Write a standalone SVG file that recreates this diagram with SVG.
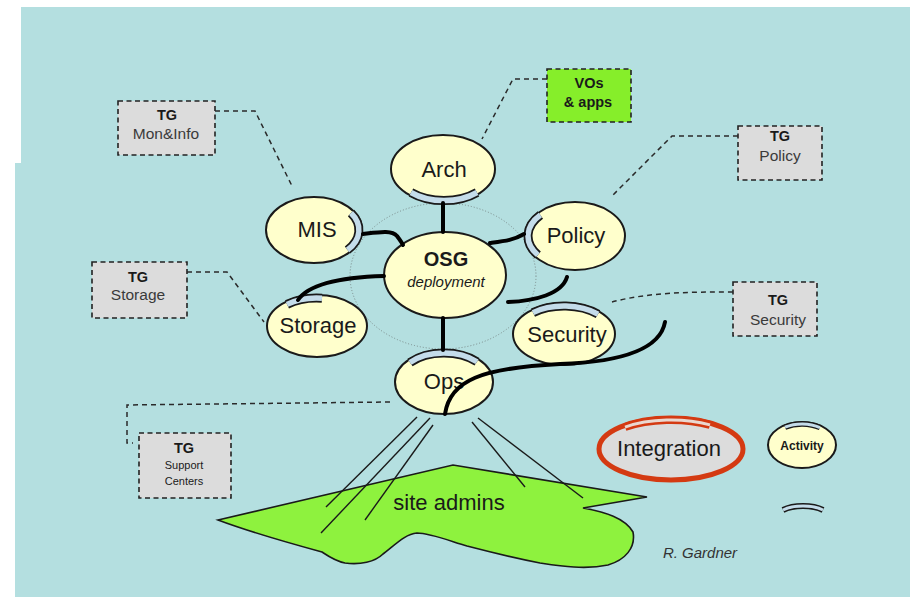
<svg xmlns="http://www.w3.org/2000/svg" width="915" height="602" viewBox="0 0 915 602">
<style>
.bg{fill:#b4dfe0}
.node{fill:#ffffcc;stroke:#1a1a1a;stroke-width:2}
.lbl{font-family:"Liberation Sans",Arial,sans-serif;font-size:22px;fill:#1a1a1a;text-anchor:middle}
.notchO{fill:none;stroke:#1a1a1a;stroke-width:9}
.notchI{fill:none;stroke:#c4dcea;stroke-width:5.5}
.tg{fill:#dcdcdc;stroke:#222;stroke-width:1.6;stroke-dasharray:5,3.5}
.vo{fill:#86ee2a;stroke:#222;stroke-width:1.6;stroke-dasharray:5,3.5}
.tgh{font-family:"Liberation Sans",Arial,sans-serif;font-size:14.5px;font-weight:bold;fill:#1a1a1a;text-anchor:middle}
.tgs{font-family:"Liberation Sans",Arial,sans-serif;font-size:15.5px;fill:#3a3a3a;text-anchor:middle}
.lead{fill:none;stroke:#2a2a2a;stroke-width:1.5;stroke-dasharray:5,4}
.thick{fill:none;stroke:#000;stroke-width:4;stroke-linecap:round}
.thin{fill:none;stroke:#1a1a1a;stroke-width:1.4}
</style>
<polygon class="bg" points="21,7 910,7 910,597 15,597 15,163 21,163"/>
<ellipse cx="443" cy="276" rx="93" ry="73" fill="none" stroke="#7a8a8a" stroke-width="1" stroke-dasharray="1,2"/>

<g id="site-admins">
<path d="M218,520 L453,465 L647,497 L583,508 C605,512 625,518 633,532 C636,548 625,560 608,565 C585,570 560,566 540,563 C515,558 490,552 467,546 C450,541 430,533 417,533 C405,534 395,545 383,554 C375,562 360,565 345,563 C335,561 328,556 322,552 C300,546 250,532 218,520 Z" fill="#8ef23e" stroke="#1a1a1a" stroke-width="1.6"/>
<text class="lbl" x="449" y="510">site admins</text>
</g>

<g id="arch">
<ellipse class="node" cx="443" cy="169" rx="52" ry="34"/>
<path class="notchO" d="M411,192.5 A49,31 0 0 0 477,192.5"/>
<path class="notchI" d="M411,192.5 A49,31 0 0 0 477,192.5"/>
<text class="lbl" x="444" y="177">Arch</text>
</g>

<g id="mis">
<ellipse class="node" cx="314" cy="230" rx="48" ry="33"/>
<path class="notchO" d="M351,213 A45,30 0 0 1 347.5,250"/>
<path class="notchI" d="M351,213 A45,30 0 0 1 347.5,250"/>
<text class="lbl" x="317" y="237">MIS</text>
</g>

<g id="osg">
<ellipse class="node" cx="445" cy="275" rx="61" ry="43"/>
<text x="446" y="266" font-family="Liberation Sans,Arial,sans-serif" font-size="20" font-weight="bold" fill="#1a1a1a" text-anchor="middle">OSG</text>
<text x="446" y="287" font-family="Liberation Sans,Arial,sans-serif" font-size="15" font-style="italic" fill="#1a1a1a" text-anchor="middle">deployment</text>
</g>

<g id="policy">
<ellipse class="node" cx="575" cy="236" rx="50" ry="34"/>
<path class="notchO" d="M540.4,215 A47,31 0 0 0 537.9,255"/>
<path class="notchI" d="M540.4,215 A47,31 0 0 0 537.9,255"/>
<text class="lbl" x="576" y="243">Policy</text>
</g>

<g id="storage">
<ellipse class="node" cx="317" cy="326" rx="50" ry="31"/>
<path class="notchO" d="M287,304.4 A47,28 0 0 1 322,298.2"/>
<path class="notchI" d="M287,304.4 A47,28 0 0 1 322,298.2"/>
<text class="lbl" x="318" y="333">Storage</text>
</g>

<g id="security">
<ellipse class="node" cx="564" cy="334" rx="51" ry="31"/>
<path class="notchO" d="M533,312.6 A48,28 0 0 1 598,314.2"/>
<path class="notchI" d="M533,312.6 A48,28 0 0 1 598,314.2"/>
<text class="lbl" x="567" y="342">Security</text>
</g>

<g id="ops">
<ellipse class="node" cx="444" cy="382" rx="49" ry="32"/>
<path class="notchO" d="M410,362.5 A46,29 0 0 1 477,361.8"/>
<path class="notchI" d="M410,362.5 A46,29 0 0 1 477,361.8"/>
<text class="lbl" x="444" y="389">Ops</text>
</g>

<g id="integration">
<ellipse cx="671" cy="449" rx="72" ry="31" fill="#dcdcdc" stroke="#d43a12" stroke-width="5"/>
<path d="M625,427.1 A70,29 0 0 1 710,424.9" fill="none" stroke="#d43a12" stroke-width="8"/>
<path d="M625,427.1 A70,29 0 0 1 710,424.9" fill="none" stroke="#ead8d0" stroke-width="3"/>
<text class="lbl" x="669" y="456">Integration</text>
</g>

<g id="activity">
<ellipse class="node" cx="802" cy="445" rx="34" ry="23" stroke-width="1.6"/>
<path d="M785,427.2 A32,21 0 0 1 820,427.6" fill="none" stroke="#1a1a1a" stroke-width="5.5"/>
<path d="M785,427.2 A32,21 0 0 1 820,427.6" fill="none" stroke="#c4dcea" stroke-width="3"/>
<text x="802" y="450" font-family="Liberation Sans,Arial,sans-serif" font-size="12" font-weight="bold" fill="#1a1a1a" text-anchor="middle">Activity</text>
</g>

<g id="connector-symbol">
<path d="M783,510 A26,11 0 0 1 823,510" fill="none" stroke="#1a1a1a" stroke-width="6"/>
<path d="M783,510 A26,11 0 0 1 823,510" fill="none" stroke="#c4dcea" stroke-width="3"/>
</g>

<g id="tg-moninfo">
<rect class="tg" x="118" y="101" width="97" height="54"/>
<text class="tgh" x="167" y="120">TG</text>
<text class="tgs" x="166" y="139">Mon&amp;Info</text>
</g>

<g id="vos-apps">
<rect class="vo" x="547" y="69" width="84" height="53"/>
<text class="tgh" x="589" y="88" font-size="15">VOs</text>
<text class="tgh" x="588" y="107" font-size="15">&amp; apps</text>
</g>

<g id="tg-policy">
<rect class="tg" x="738" y="126" width="84" height="54"/>
<text class="tgh" x="780" y="141">TG</text>
<text class="tgs" x="780" y="161">Policy</text>
</g>

<g id="tg-storage">
<rect class="tg" x="92" y="262" width="95" height="56"/>
<text class="tgh" x="138" y="282">TG</text>
<text class="tgs" x="138" y="300">Storage</text>
</g>

<g id="tg-security">
<rect class="tg" x="733" y="282" width="84" height="54"/>
<text class="tgh" x="778" y="305">TG</text>
<text class="tgs" x="778" y="325">Security</text>
</g>

<g id="tg-support">
<rect class="tg" x="139" y="433" width="92" height="65"/>
<text class="tgh" x="184" y="453">TG</text>
<text x="184" y="469" font-family="Liberation Sans,Arial,sans-serif" font-size="11" fill="#1a1a1a" text-anchor="middle">Support</text>
<text x="184" y="485" font-family="Liberation Sans,Arial,sans-serif" font-size="11" fill="#1a1a1a" text-anchor="middle">Centers</text>
</g>

<g id="connectors">
<path class="thick" d="M443,203 L443,232"/>
<path class="thick" d="M443,318 L443,350"/>
<path class="thick" d="M363,234 C380,232 392,230 397,236 C400,240 402,243 403,245"/>
<path class="thick" d="M384,276 C350,277 310,282 298,300"/>
<path class="thick" d="M490,243 C505,241 514,240 524,234"/>
<path class="thick" d="M508,302 C535,301 562,294 567,277"/>
<path class="thick" d="M445,414 C450,380 482,368 560,364 C620,362 660,350 665,322"/>
<path class="thin" d="M417,417 L326,507"/>
<path class="thin" d="M430,418 L321,533"/>
<path class="thin" d="M433,425 L365,520"/>
<path class="thin" d="M472,422 L525,487"/>
<path class="thin" d="M478,418 L583,498"/>
<path class="lead" d="M215,111 L255,111 L293,188"/>
<path class="lead" d="M547,79 L513,79 L482,139"/>
<path class="lead" d="M738,136 L672,136 L612,196"/>
<path class="lead" d="M187,272 L227,272 L264,322"/>
<path class="lead" d="M733,292 C690,292 650,292 612,302"/>
<path class="lead" d="M390,402 L127,405 L127,443 L133,443"/>
</g>

<text x="700" y="558" font-family="Liberation Sans,Arial,sans-serif" font-size="15" font-style="italic" fill="#333" text-anchor="middle">R. Gardner</text>
</svg>
